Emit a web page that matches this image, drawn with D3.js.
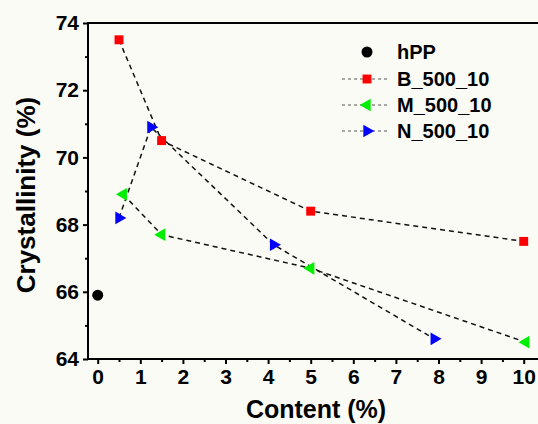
<!DOCTYPE html>
<html>
<head>
<meta charset="utf-8">
<script src="https://cdn.jsdelivr.net/npm/d3@7"></script>
<style>
  body { margin: 0; background: #fbfbf6; }
  svg { display: block; font-family: "Liberation Sans", Arial, sans-serif; font-weight: bold; }
</style>
</head>
<body>
<svg id="chart"></svg>
<script>
const WIDTH = 538;
const HEIGHT = 424;

// data
const hppX = [0];
const hppY = [65.9];

const bX = [0.5, 1.5, 5, 10];
const bY = [73.5, 70.5, 68.4, 67.5];

const mX = [0.6, 1.5, 5, 10.05];
const mY = [68.9, 67.7, 66.7, 64.5];

const nX = [0.5, 1.25, 4.13, 7.9];
const nY = [68.2, 70.9, 67.4, 64.6];

const xTicks = [0, 1, 2, 3, 4, 5, 6, 7, 8, 9, 10];
const yTicks = [64, 66, 68, 70, 72, 74];

const series = [
  { name: "B_500_10", xs: bX, ys: bY, color: "#ff0000", shape: d3.symbolSquare, size: 80, rot: 0 },
  { name: "M_500_10", xs: mX, ys: mY, color: "#00ee00", shape: d3.symbolTriangle, size: 70, rot: -90 },
  { name: "N_500_10", xs: nX, ys: nY, color: "#0000ff", shape: d3.symbolTriangle, size: 70, rot: 90 },
];

const svg = d3.select("#chart").attr("width", WIDTH).attr("height", HEIGHT);

const PLOT_LEFT = 88, PLOT_TOP = 23, PLOT_BOTTOM = 359;

const xScale = d3.scaleLinear().domain([0, 10]).range([97.7, 523.7]);
const yScale = d3.scaleLinear().domain([64, 74]).range([PLOT_BOTTOM, PLOT_TOP]);

// frame: top line
svg.append("line")
  .attr("x1", PLOT_LEFT).attr("x2", WIDTH + 5)
  .attr("y1", PLOT_TOP).attr("y2", PLOT_TOP)
  .attr("stroke", "#000").attr("stroke-width", 2);

// x axis
const xAxis = d3.axisBottom(xScale).tickValues(xTicks).tickFormat(d3.format("d"))
  .tickSize(5).tickPadding(5);
const gx = svg.append("g").attr("transform", "translate(0," + PLOT_BOTTOM + ")").call(xAxis);
gx.select(".domain").remove();
gx.append("line").attr("x1", PLOT_LEFT).attr("x2", WIDTH + 5).attr("stroke", "#000").attr("stroke-width", 2);
gx.selectAll(".tick line").attr("stroke-width", 2);
gx.selectAll(".tick text").attr("font-size", 21).attr("font-weight", "bold")
  .attr("font-family", "Liberation Sans, Arial, sans-serif").attr("fill", "#000");
const xMinor = d3.axisBottom(xScale).tickValues(d3.range(0.5, 10.6, 1)).tickSize(3).tickFormat("");
const gxm = svg.append("g").attr("transform", "translate(0," + PLOT_BOTTOM + ")").call(xMinor);
gxm.select(".domain").remove();
gxm.selectAll(".tick line").attr("stroke-width", 2);

// y axis
const yAxis = d3.axisLeft(yScale).tickValues(yTicks).tickFormat(d3.format("d"))
  .tickSize(5).tickPadding(4);
const gy = svg.append("g").attr("transform", "translate(" + PLOT_LEFT + ",0)").call(yAxis);
gy.select(".domain").remove();
gy.append("line").attr("y1", PLOT_TOP - 1).attr("y2", PLOT_BOTTOM + 1).attr("stroke", "#000").attr("stroke-width", 2);
gy.selectAll(".tick line").attr("stroke-width", 2);
gy.selectAll(".tick text").attr("font-size", 21).attr("font-weight", "bold")
  .attr("font-family", "Liberation Sans, Arial, sans-serif").attr("fill", "#000");
const yMinor = d3.axisLeft(yScale).tickValues([65, 67, 69, 71, 73]).tickSize(3).tickFormat("");
const gym = svg.append("g").attr("transform", "translate(" + PLOT_LEFT + ",0)").call(yMinor);
gym.select(".domain").remove();
gym.selectAll(".tick line").attr("stroke-width", 2);

// axis titles
svg.append("text")
  .attr("x", 316).attr("y", 418)
  .attr("text-anchor", "middle").attr("font-size", 25)
  .text("Content (%)");
svg.append("text")
  .attr("transform", "translate(35,195) rotate(-90)")
  .attr("text-anchor", "middle").attr("font-size", 26)
  .text("Crystallinity (%)");

// dashed connecting lines
const line = d3.line().x((d) => xScale(d[0])).y((d) => yScale(d[1]));
series.forEach((s) => {
  const pts = s.xs.map((x, i) => [x, s.ys[i]]);
  svg.append("path")
    .attr("d", line(pts))
    .attr("fill", "none")
    .attr("stroke", "#111")
    .attr("stroke-width", 1.5)
    .attr("stroke-dasharray", "5,4");
});

// markers
series.forEach((s) => {
  svg.selectAll(null)
    .data(s.xs.map((x, i) => [x, s.ys[i]]))
    .enter()
    .append("path")
    .attr("d", d3.symbol().type(s.shape).size(s.size)())
    .attr("transform", (d) => "translate(" + xScale(d[0]) + "," + yScale(d[1]) + ") rotate(" + s.rot + ")")
    .attr("fill", s.color);
});

svg.selectAll(null)
  .data(hppX.map((x, i) => [x, hppY[i]]))
  .enter()
  .append("circle")
  .attr("cx", (d) => xScale(d[0]))
  .attr("cy", (d) => yScale(d[1]))
  .attr("r", 5.5)
  .attr("fill", "#000");

// legend
const legend = svg.append("g");
const legX = 367, rowY = [52, 79, 105, 131];
legend.append("circle").attr("cx", legX).attr("cy", rowY[0]).attr("r", 5.5).attr("fill", "#000");
legend.append("text").attr("x", 397).attr("y", rowY[0] + 7).attr("font-size", 20).text("hPP");
series.forEach((s, i) => {
  const y = rowY[i + 1];
  legend.append("line")
    .attr("x1", 342).attr("x2", 389).attr("y1", y).attr("y2", y)
    .attr("stroke", "#555").attr("stroke-width", 1).attr("stroke-dasharray", "3,3");
  legend.append("path")
    .attr("d", d3.symbol().type(s.shape).size(s.size)())
    .attr("transform", "translate(" + legX + "," + y + ") rotate(" + s.rot + ")")
    .attr("fill", s.color);
  legend.append("text").attr("x", 397).attr("y", y + 7).attr("font-size", 20).text(s.name);
});
</script>
</body>
</html>
